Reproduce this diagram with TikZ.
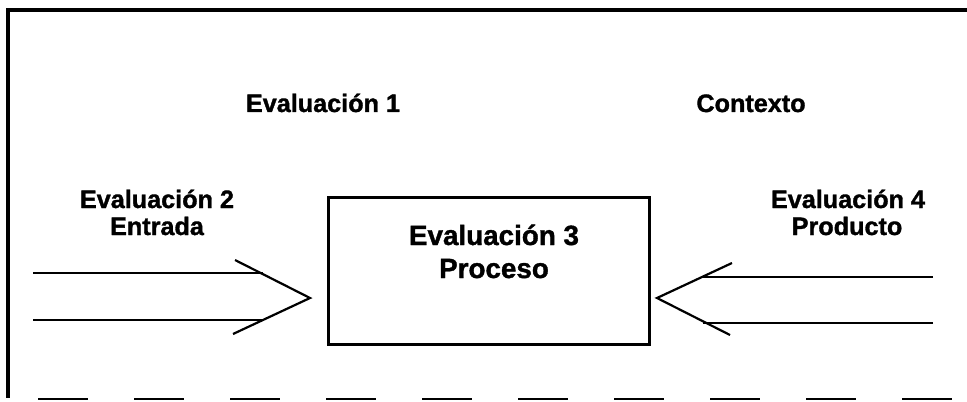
\documentclass[tikz,border=0pt]{standalone}
\usepackage{fontspec}
\setmainfont{Liberation Sans}
\newfontfamily\heavyfont[FakeBold=1.3]{Liberation Sans Bold}
\tikzset{
  lbl/.style={font=\heavyfont\fontsize{12.6}{13.5}\selectfont, anchor=base, inner sep=0pt},
  biglbl/.style={font=\heavyfont\fontsize{13.9}{16}\selectfont, anchor=base, inner sep=0pt},
  frameline/.style={line width=2pt, line cap=rect},
  arrline/.style={line width=1.1pt},
  procbox/.style={draw, line width=1.5pt, minimum width=160.5pt, minimum height=73.5pt, inner sep=0pt}
}
\begin{document}
\begin{tikzpicture}[x=0.5pt, y=-0.5pt]
\useasboundingbox (0,0) rectangle (967,401);
% frame
\coordinate (tl) at (8,10);
\coordinate (tr) at (967,10);
\coordinate (bl) at (8,396);
\draw[frameline] (tr) -- (tl) -- (bl);
\coordinate (dl) at (38,399);
\coordinate (dr) at (967,399);
\draw[line width=1pt, dash pattern=on 25pt off 23pt] (dl) -- (dr);
% labels
\node[lbl] (e1) at (323,112) {Evaluación 1};
\node[lbl] (ctx) at (751,112) {Contexto};
\node[lbl] (e2) at (157,208) {Evaluación 2};
\node[lbl] (ent) at (157,235) {Entrada};
\node[lbl] (e4) at (848,208) {Evaluación 4};
\node[lbl] (prod) at (847,235) {Producto};
% box
\node[procbox] (box) at (488.5,270.5) {};
\node[biglbl] (e3) at (494,245) {Evaluación 3};
\node[biglbl] (proc) at (494,278) {Proceso};
% left arrow
\coordinate (ltip) at (310,298);
\coordinate (la1) at (235,260);
\coordinate (la2) at (233,334);
\coordinate (ls1) at (33,273);
\coordinate (le1) at (263,273);
\coordinate (ls2) at (33,320);
\coordinate (le2) at (263,320);
\draw[arrline] (ls1) -- (le1);
\draw[arrline] (ls2) -- (le2);
\draw[arrline] (la1) -- (ltip) -- (la2);
% right arrow
\coordinate (rtip) at (657,298);
\coordinate (ra1) at (732,263);
\coordinate (ra2) at (730,335);
\coordinate (rs1) at (933,277);
\coordinate (re1) at (703,277);
\coordinate (rs2) at (933,323);
\coordinate (re2) at (703,323);
\draw[arrline] (rs1) -- (re1);
\draw[arrline] (rs2) -- (re2);
\draw[arrline] (ra1) -- (rtip) -- (ra2);
\end{tikzpicture}
\end{document}
